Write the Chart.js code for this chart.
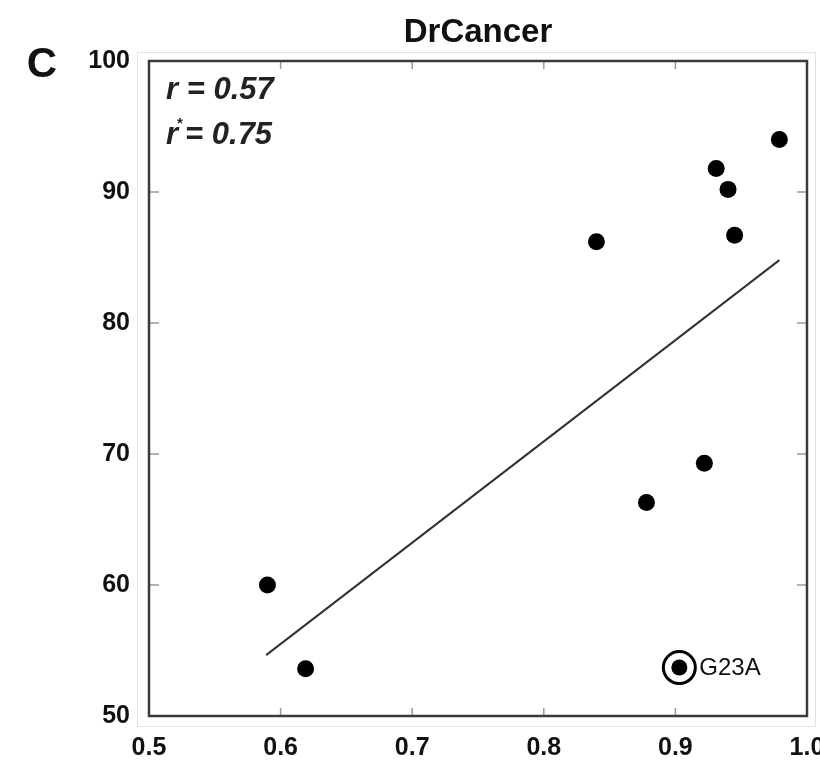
<!DOCTYPE html>
<html>
<head>
<meta charset="utf-8">
<script src="https://cdn.jsdelivr.net/npm/chart.js@4"></script>
<style>
html,body{margin:0;padding:0;background:#fff;}
#wrap{width:820px;height:764px;position:relative;}
</style>
</head>
<body>
<div id="wrap"><canvas id="c" width="820" height="764"></canvas></div>
<script>
// ---- data ----
const chartTitle = "DrCancer";
const panelLetter = "C";
const xValues = [0.590, 0.619, 0.840, 0.878, 0.922, 0.931, 0.940, 0.945, 0.979];
const yValues = [60.0, 53.6, 86.2, 66.3, 69.3, 91.8, 90.2, 86.7, 94.0];
const highlightLabel = "G23A";
const highlightX = [0.903];
const highlightY = [53.7];
const fitX = [0.589, 0.979];
const fitY = [54.65, 84.8];
const xTicks = [0.5, 0.6, 0.7, 0.8, 0.9, 1.0];
const yTicks = [50, 60, 70, 80, 90, 100];
const statLines = ["r = 0.57", "0.75"];

const toPts = (xs, ys) => xs.map((x, i) => ({x: x, y: ys[i]}));
const FONT = "'Liberation Sans', Arial, Helvetica, sans-serif";

const decorPlugin = {
  id: 'decor',
  beforeDraw(chart) {
    const ctx = chart.ctx;
    ctx.save();
    ctx.fillStyle = '#fff';
    ctx.fillRect(0, 0, chart.width, chart.height);
    ctx.strokeStyle = '#e2e2e2';
    ctx.lineWidth = 1;
    ctx.strokeRect(137.5, 52.5, 678, 674);
    ctx.restore();
  },
  afterDatasetsDraw(chart) {
    const ctx = chart.ctx;
    const a = chart.chartArea;
    const xs = chart.scales.x, ys = chart.scales.y;
    ctx.save();
    // inner ticks
    ctx.strokeStyle = '#9a9a9a';
    ctx.lineWidth = 1.5;
    xTicks.forEach(v => {
      if (v <= xs.min || v >= xs.max) return;
      const px = xs.getPixelForValue(v);
      ctx.beginPath();
      ctx.moveTo(px, a.bottom); ctx.lineTo(px, a.bottom - 8);
      ctx.moveTo(px, a.top); ctx.lineTo(px, a.top + 8);
      ctx.stroke();
    });
    yTicks.forEach(v => {
      if (v <= ys.min || v >= ys.max) return;
      const py = ys.getPixelForValue(v);
      ctx.beginPath();
      ctx.moveTo(a.left, py); ctx.lineTo(a.left + 10, py);
      ctx.moveTo(a.right, py); ctx.lineTo(a.right - 10, py);
      ctx.stroke();
    });
    // plot border
    ctx.strokeStyle = '#3a3a3a';
    ctx.lineWidth = 2.5;
    ctx.strokeRect(a.left, a.top, a.right - a.left, a.bottom - a.top);

    // title and panel letter
    ctx.fillStyle = '#111';
    ctx.textAlign = 'center';
    ctx.textBaseline = 'middle';
    ctx.font = "bold 33px " + FONT;
    ctx.fillText(chartTitle, (a.left + a.right) / 2, 33);
    ctx.font = "bold 42px " + FONT;
    ctx.fillText(panelLetter, 42, 65);

    // stats text
    ctx.textAlign = 'left';
    ctx.font = "italic bold 31px " + FONT;
    ctx.fillStyle = '#222';
    ctx.fillText(statLines[0], 166, 90);
    ctx.fillText("r", 166, 135);
    const rw = ctx.measureText("r").width;
    ctx.font = "bold 15px " + FONT;
    ctx.fillText("*", 166 + rw - 1, 124);
    ctx.font = "italic bold 31px " + FONT;
    ctx.fillText("= " + statLines[1], 166 + rw + 7, 135);

    // highlight label
    const hx = xs.getPixelForValue(highlightX[0]);
    const hy = ys.getPixelForValue(highlightY[0]);
    ctx.font = "24px " + FONT;
    ctx.fillStyle = '#111';
    ctx.fillText(highlightLabel, hx + 20, hy + 1);
    ctx.restore();
  }
};

new Chart(document.getElementById('c'), {
  type: 'scatter',
  data: {
    datasets: [
      {
        label: 'points',
        data: toPts(xValues, yValues),
        pointRadius: 8.5,
        pointBackgroundColor: '#000',
        pointBorderWidth: 0,
        showLine: false
      },
      {
        label: 'highlight',
        data: toPts(highlightX, highlightY),
        pointRadius: 8,
        pointBackgroundColor: '#000',
        pointBorderWidth: 0,
        showLine: false
      },
      {
        label: 'ring',
        data: toPts(highlightX, highlightY),
        pointRadius: 16,
        pointBackgroundColor: 'rgba(0,0,0,0)',
        pointBorderColor: '#000',
        pointBorderWidth: 3,
        showLine: false
      },
      {
        label: 'fit',
        data: toPts(fitX, fitY),
        showLine: true,
        borderColor: '#333',
        borderWidth: 2,
        pointRadius: 0,
        fill: false
      }
    ]
  },
  options: {
    responsive: false,
    animation: false,
    events: [],
    layout: { autoPadding: false, padding: { top: 61, right: 13, left: 0, bottom: 0 } },
    plugins: { legend: { display: false }, tooltip: { enabled: false }, title: { display: false } },
    scales: {
      x: {
        type: 'linear',
        min: 0.5, max: 1.0,
        border: { display: false },
        grid: { display: false, drawTicks: false },
        afterBuildTicks: s => { s.ticks = xTicks.map(v => ({value: v})); },
        afterFit: s => { s.height = 48; s.paddingLeft = 0; s.paddingRight = 0; },
        ticks: {
          padding: 17,
          autoSkip: false, maxRotation: 0, minRotation: 0,
          color: '#111',
          font: { family: FONT, size: 25, weight: 'bold' },
          callback: v => Number(v).toFixed(1)
        }
      },
      y: {
        type: 'linear',
        min: 50, max: 100,
        border: { display: false },
        grid: { display: false, drawTicks: false },
        afterBuildTicks: s => { s.ticks = yTicks.map(v => ({value: v})); },
        afterFit: s => { s.width = 149; s.paddingTop = 0; s.paddingBottom = 0; },
        ticks: {
          padding: 19,
          color: '#111',
          font: { family: FONT, size: 25, weight: 'bold' },
          callback: v => String(v)
        }
      }
    }
  },
  plugins: [decorPlugin]
});
</script>
</body>
</html>
